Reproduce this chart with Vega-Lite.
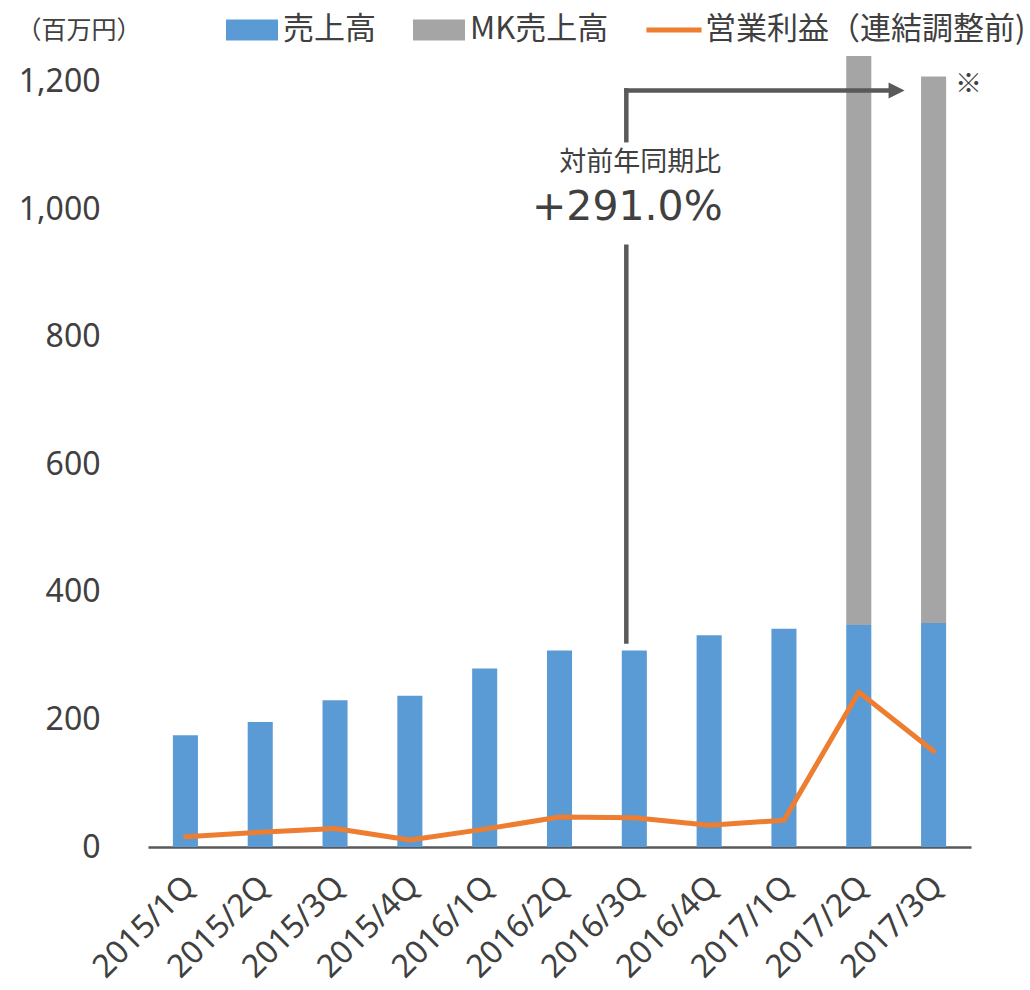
{
  "$schema": "https://vega.github.io/schema/vega-lite/v6.json",
  "width": 823,
  "height": 791,
  "autosize": {"type": "none"},
  "padding": {"left": 148, "top": 56, "right": 59, "bottom": 143},
  "background": "white",
  "config": {"view": {"stroke": null}},
  "datasets": {
    "bars": [
      {"q": "2015/1Q", "series": "売上高", "value": 175},
      {"q": "2015/2Q", "series": "売上高", "value": 196},
      {"q": "2015/3Q", "series": "売上高", "value": 230},
      {"q": "2015/4Q", "series": "売上高", "value": 237},
      {"q": "2016/1Q", "series": "売上高", "value": 280},
      {"q": "2016/2Q", "series": "売上高", "value": 308},
      {"q": "2016/3Q", "series": "売上高", "value": 308},
      {"q": "2016/4Q", "series": "売上高", "value": 332},
      {"q": "2017/1Q", "series": "売上高", "value": 342},
      {"q": "2017/2Q", "series": "売上高", "value": 348},
      {"q": "2017/3Q", "series": "売上高", "value": 351},
      {"q": "2017/2Q", "series": "MK売上高", "value": 892},
      {"q": "2017/3Q", "series": "MK売上高", "value": 857}
    ],
    "profit": [
      {"q": "2015/1Q", "value": 16},
      {"q": "2015/2Q", "value": 23},
      {"q": "2015/3Q", "value": 29},
      {"q": "2015/4Q", "value": 11},
      {"q": "2016/1Q", "value": 28},
      {"q": "2016/2Q", "value": 47},
      {"q": "2016/3Q", "value": 46},
      {"q": "2016/4Q", "value": 34},
      {"q": "2017/1Q", "value": 42},
      {"q": "2017/2Q", "value": 243},
      {"q": "2017/3Q", "value": 150}
    ],
    "vlines": [
      {"q": "2016/3Q", "value": 322, "value2": 941},
      {"q": "2016/3Q", "value": 1108, "value2": 1186}
    ],
    "hline": [
      {"q": "2016/3Q", "q2": "2017/3Q", "value": 1186}
    ],
    "head": [
      {"q": "2017/3Q", "value": 1186}
    ],
    "note1": [{"q": "2016/3Q", "value": 1072, "t": "対前年同期比"}],
    "note2": [{"q": "2016/3Q", "value": 1001, "t": "+291.0%"}],
    "note3": [{"q": "2017/3Q", "value": 1194, "t": "※"}]
  },
  "encoding": {
    "x": {
      "field": "q",
      "type": "nominal",
      "scale": {
        "domain": ["2015/1Q", "2015/2Q", "2015/3Q", "2015/4Q", "2016/1Q", "2016/2Q", "2016/3Q", "2016/4Q", "2017/1Q", "2017/2Q", "2017/3Q"],
        "paddingInner": 0.665,
        "paddingOuter": 0.3325
      },
      "axis": {
        "title": null,
        "labelAngle": -45,
        "labelAlign": "right",
        "labelBaseline": "middle",
        "labelFont": "Noto Sans",
        "labelFontSize": 32,
        "labelColor": "#404040",
        "labelPadding": 34,
        "labelOffset": 4,
        "ticks": false,
        "grid": false,
        "domainColor": "#595959",
        "domainWidth": 2.5
      }
    },
    "y": {
      "field": "value",
      "type": "quantitative",
      "scale": {"domain": [0, 1240], "nice": false},
      "axis": {
        "title": "（百万円）",
        "titleAngle": 0,
        "titleAlign": "left",
        "titleBaseline": "middle",
        "titleX": -132,
        "titleY": -26,
        "titleFont": "Noto Sans CJK JP",
        "titleFontSize": 25,
        "titleFontWeight": "normal",
        "titleColor": "#404040",
        "values": [0, 200, 400, 600, 800, 1000, 1200],
        "format": ",.0f",
        "labelFont": "Noto Sans",
        "labelFontSize": 32,
        "labelColor": "#404040",
        "labelPadding": 48,
        "domain": false,
        "ticks": false,
        "grid": false
      }
    }
  },
  "layer": [
    {
      "data": {"name": "bars"},
      "mark": {"type": "bar"},
      "encoding": {
        "y": {
          "field": "value",
          "type": "quantitative",
          "stack": "zero"
        },
        "color": {
          "field": "series",
          "type": "nominal",
          "scale": {
            "domain": ["売上高", "MK売上高", "営業利益（連結調整前)"],
            "range": ["#5B9BD5", "#A5A5A5", "#ED7D31"]
          },
          "legend": {
            "title": null,
            "orient": "none",
            "legendX": 78,
            "legendY": -52,
            "direction": "horizontal",
            "symbolSize": 2704,
            "symbolType": "M-1,-0.4H1V0.4H-1Z",
            "symbolStrokeWidth": 0,
            "labelFont": "Noto Sans CJK JP",
            "labelFontSize": 31,
            "labelColor": "#404040",
            "labelOffset": 5,
            "labelLimit": 500,
            "columnPadding": 37,
            "encode": {
              "symbols": {
                "update": {
                  "shape": {"signal": "datum.value === '営業利益（連結調整前)' ? 'M-1.06,-0.1H1.06V0.1H-1.06Z' : 'M-1,-0.4H1V0.4H-1Z'"}
                }
              }
            }
          }
        },
        "order": {"field": "series", "sort": "descending"}
      }
    },
    {
      "data": {"name": "profit"},
      "mark": {"type": "line", "strokeWidth": 5, "strokeCap": "round", "strokeJoin": "round"},
      "encoding": {
        "color": {"datum": "営業利益（連結調整前)", "type": "nominal"}
      }
    },
    {
      "data": {"name": "vlines"},
      "mark": {"type": "rule", "color": "#595959", "strokeWidth": 4.5, "strokeCap": "square", "xOffset": -8},
      "encoding": {
        "y2": {"field": "value2"}
      }
    },
    {
      "data": {"name": "hline"},
      "mark": {"type": "rule", "color": "#595959", "strokeWidth": 4.5, "strokeCap": "square", "xOffset": -8, "x2Offset": -44},
      "encoding": {
        "x2": {"field": "q2"}
      }
    },
    {
      "data": {"name": "head"},
      "mark": {"type": "point", "shape": "M-1,-1L1,0L-1,1Z", "size": 256, "filled": true, "color": "#595959", "opacity": 1, "strokeWidth": 0, "xOffset": -37},
      "encoding": {}
    },
    {
      "data": {"name": "note1"},
      "mark": {"type": "text", "font": "Noto Sans CJK JP", "fontSize": 27, "color": "#404040", "align": "center", "baseline": "middle", "dx": 6},
      "encoding": {
        "text": {"field": "t"}
      }
    },
    {
      "data": {"name": "note2"},
      "mark": {"type": "text", "font": "DejaVu Sans", "fontSize": 41, "color": "#404040", "align": "center", "baseline": "middle", "dx": -7},
      "encoding": {
        "text": {"field": "t"}
      }
    },
    {
      "data": {"name": "note3"},
      "mark": {"type": "text", "font": "Noto Sans CJK JP", "fontSize": 27, "color": "#404040", "align": "center", "baseline": "middle", "dx": 35},
      "encoding": {
        "text": {"field": "t"}
      }
    }
  ]
}
